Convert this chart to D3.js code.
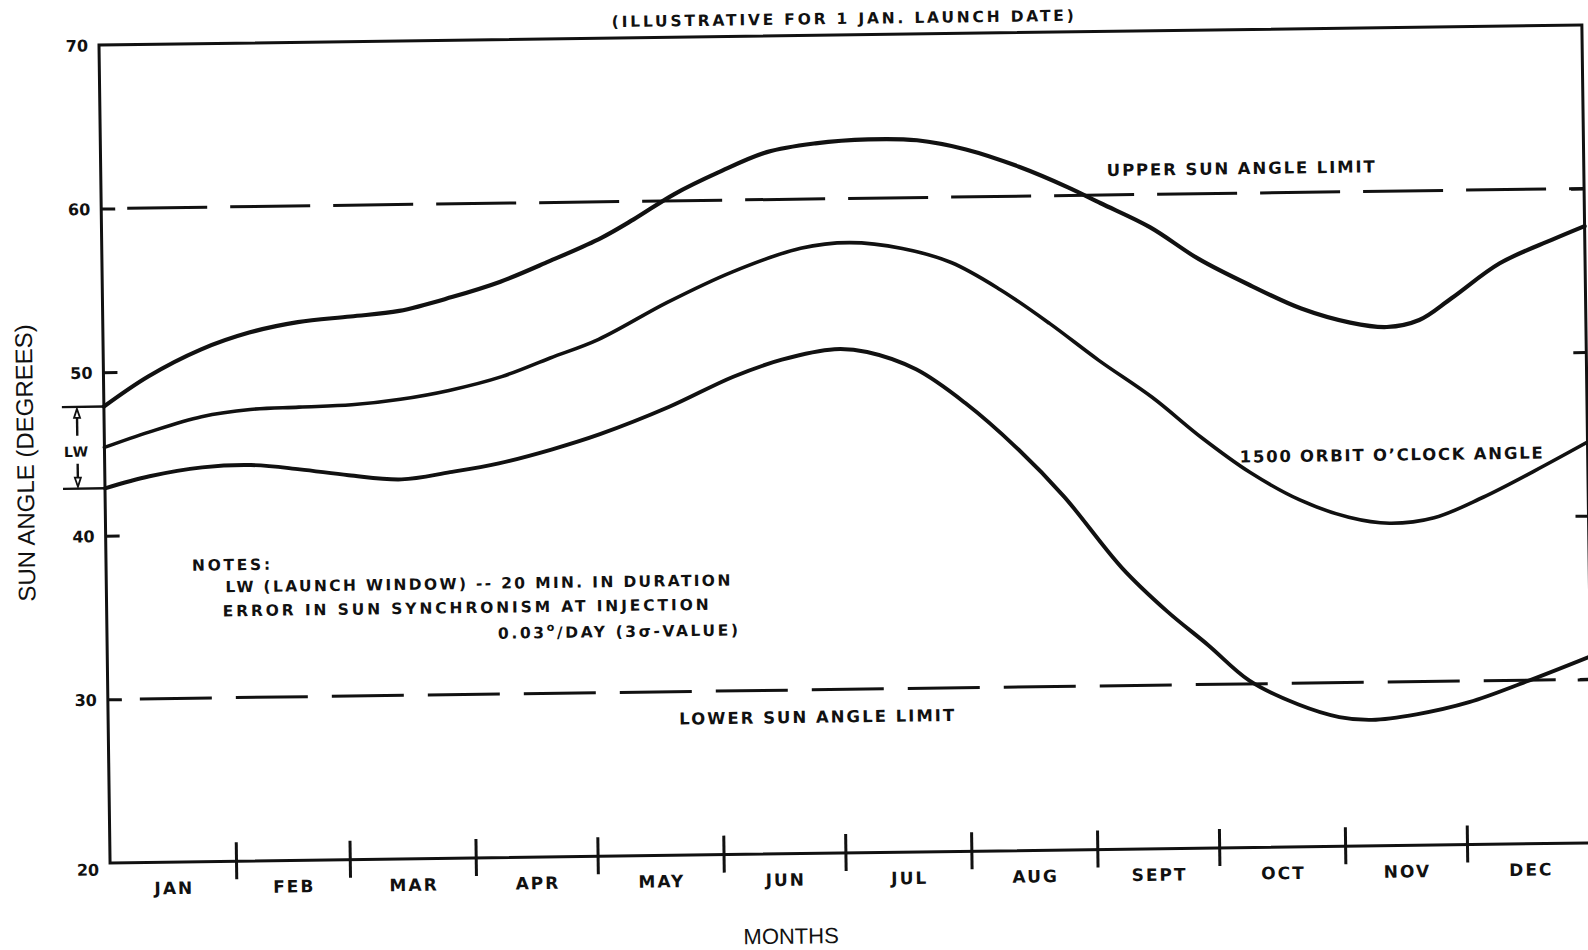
<!DOCTYPE html>
<html>
<head>
<meta charset="utf-8">
<script src="https://cdn.jsdelivr.net/npm/d3@7"></script>
<style>
  html, body { margin: 0; padding: 0; background: #fff; }
  svg { display: block; }
  .lbl { font-family: "DejaVu Sans", sans-serif; font-weight: bold; fill: #111; }
  .ttl { font-family: "Liberation Sans", Arial, sans-serif; fill: #111; }
</style>
</head>
<body>
<svg id="chart" width="1588" height="950"></svg>
<script>
// Month names along the time axis and sun-angle ticks
const monthLabels = ["JAN", "FEB", "MAR", "APR", "MAY", "JUN", "JUL", "AUG", "SEPT", "OCT", "NOV", "DEC"];
const angleTicks = [20, 30, 40, 50, 60, 70];
const sideTicks = [30, 40, 50, 60];
const upperLimit = 60;
const lowerLimit = 30;

// Sun angle (deg) versus days after the 1 Jan launch
const upperDays  = [0, 11, 24, 36, 48, 61, 73, 86, 98, 110, 123, 131, 141, 152, 164, 176, 189, 201, 213, 226, 238, 246, 258, 270, 283, 295, 307, 316, 324, 332, 344, 357, 365];
const upperAngle = [47.9, 49.7, 51.3, 52.3, 52.9, 53.2, 53.5, 54.3, 55.2, 56.4, 57.8, 58.9, 60.4, 61.7, 62.9, 63.4, 63.6, 63.5, 62.9, 61.8, 60.5, 59.5, 58.0, 56.0, 54.3, 52.9, 52.0, 51.7, 52.1, 53.4, 55.5, 56.9, 57.7];

const orbitDays  = [0, 11, 24, 36, 48, 61, 73, 85, 98, 110, 122, 139, 155, 172, 184, 197, 209, 221, 233, 245, 258, 270, 282, 294, 306, 316, 327, 339, 352, 365];
const orbitAngle = [45.4, 46.3, 47.2, 47.6, 47.7, 47.8, 48.1, 48.6, 49.4, 50.5, 51.6, 53.8, 55.6, 57.0, 57.3, 56.9, 56.0, 54.3, 52.2, 49.9, 47.6, 45.1, 42.9, 41.2, 40.1, 39.7, 40.0, 41.2, 42.8, 44.5];

const lowerDays  = [0, 11, 24, 36, 48, 60, 73, 85, 97, 110, 122, 139, 155, 167, 180, 188, 200, 212, 225, 236, 250, 261, 271, 281, 293, 303, 311, 322, 335, 349, 365];
const lowerAngle = [42.9, 43.6, 44.1, 44.2, 43.9, 43.5, 43.2, 43.6, 44.1, 44.9, 45.8, 47.4, 49.2, 50.2, 50.8, 50.6, 49.5, 47.4, 44.5, 41.6, 37.2, 34.5, 32.4, 30.2, 28.7, 27.9, 27.7, 28.0, 28.7, 29.9, 31.4];

const W = 1483, H = 818;
const yearStart = new Date(Date.UTC(1970, 0, 1));
const yearEnd = new Date(Date.UTC(1971, 0, 1));
const dayDate = d => d3.utcDay.offset(yearStart, d);

const x = d3.scaleUtc().domain([yearStart, yearEnd]).range([0, W]);
const y = d3.scaleLinear().domain([20, 70]).range([H, 0]);

const svg = d3.select("#chart");
// the sheet sits slightly tilted on the page
const g = svg.append("g").attr("transform", "translate(99,45) rotate(-0.775)");

// frame
g.append("rect").attr("x", 0).attr("y", 0).attr("width", W).attr("height", H)
  .attr("fill", "none").attr("stroke", "#111").attr("stroke-width", 3);

// left sun-angle axis
const yAxis = g.append("g")
  .call(d3.axisLeft(y).tickValues(angleTicks).tickSize(-14).tickPadding(11).tickFormat(d3.format("d")));
yAxis.select(".domain").remove();
yAxis.selectAll(".tick line").attr("stroke", "#111").attr("stroke-width", 3)
  .attr("display", d => (d === 20 || d === 70) ? "none" : null);
yAxis.selectAll(".tick text").attr("class", "lbl").style("font-size", "16px")
  .attr("dy", d => d === 20 ? "0.75em" : "0.36em");

// right edge ticks
const yRight = g.append("g").attr("transform", `translate(${W},0)`)
  .call(d3.axisRight(y).tickValues(sideTicks).tickSize(-13).tickFormat(""));
yRight.select(".domain").remove();
yRight.selectAll(".tick line").attr("stroke", "#111").attr("stroke-width", 3);

// month boundaries on the time axis
const monthStarts = d3.utcMonth.range(yearStart, yearEnd);
const boundaries = monthStarts.slice(1);
const xAxis = g.append("g").attr("transform", `translate(0,${H})`)
  .call(d3.axisBottom(x).tickValues(boundaries).tickSize(18).tickFormat(""));
xAxis.select(".domain").remove();
xAxis.selectAll(".tick line").attr("y1", -19).attr("y2", 18)
  .attr("stroke", "#111").attr("stroke-width", 3);

g.append("g").selectAll("text").data(monthStarts).join("text")
  .attr("class", "lbl")
  .attr("x", (d, i) => (x(d) + x(i < 11 ? monthStarts[i + 1] : yearEnd)) / 2 + 1)
  .attr("y", H + 32)
  .attr("text-anchor", "middle")
  .style("font-size", "17px").style("letter-spacing", "2px")
  .text((d, i) => monthLabels[i]);

// sun angle limits
const limits = [
  { v: upperLimit, start: 26, dash: "80,23" },
  { v: lowerLimit, start: 32, dash: "72,24" }
];
g.append("g").selectAll("line").data(limits).join("line")
  .attr("x1", d => d.start).attr("x2", W)
  .attr("y1", d => y(d.v)).attr("y2", d => y(d.v))
  .attr("stroke", "#111").attr("stroke-width", 3)
  .attr("stroke-dasharray", d => d.dash);

// curves
const line = d3.line()
  .x(d => x(dayDate(d[0])))
  .y(d => y(d[1]))
  .curve(d3.curveCatmullRom.alpha(0.5));

const series = [
  { days: upperDays, angle: upperAngle, w: 4.2 },
  { days: orbitDays, angle: orbitAngle, w: 3.6 },
  { days: lowerDays, angle: lowerAngle, w: 3.9 }
];
g.append("g").selectAll("path").data(series).join("path")
  .attr("d", s => line(d3.zip(s.days, s.angle)))
  .attr("fill", "none").attr("stroke", "#111")
  .attr("stroke-width", s => s.w)
  .attr("stroke-linejoin", "round").attr("stroke-linecap", "round");

// launch window marker
const lwTop = y(upperAngle[0]);
const lwBot = y(lowerAngle[0]);
const lwMid = (lwTop + lwBot) / 2;
const lw = g.append("g").attr("stroke", "#111").attr("stroke-width", 2.4);
lw.append("line").attr("x1", -42).attr("x2", 0).attr("y1", lwTop).attr("y2", lwTop);
lw.append("line").attr("x1", -42).attr("x2", 0).attr("y1", lwBot).attr("y2", lwBot);
lw.append("line").attr("x1", -27).attr("x2", -27).attr("y1", lwTop + 6).attr("y2", lwMid - 12);
lw.append("line").attr("x1", -27).attr("x2", -27).attr("y1", lwMid + 16).attr("y2", lwBot - 4);
lw.append("path").attr("d", `M-27,${lwTop + 2}L-30,${lwTop + 11}L-24,${lwTop + 11}Z`)
  .attr("fill", "#fff").attr("stroke-width", 1.8);
lw.append("path").attr("d", `M-27,${lwBot - 2}L-30,${lwBot - 11}L-24,${lwBot - 11}Z`)
  .attr("fill", "#fff").attr("stroke-width", 1.8);
g.append("text").attr("class", "lbl").attr("x", -28).attr("y", lwMid + 9)
  .attr("text-anchor", "middle").style("font-size", "14px").style("letter-spacing", "1px").text("LW");

// annotations
const notes = [
  { t: "UPPER SUN ANGLE LIMIT", x: 1006, y: y(upperLimit) - 19, len: 268, fs: 16.5 },
  { t: "LOWER SUN ANGLE LIMIT", x: 571, y: y(lowerLimit) + 33, len: 275, fs: 16.5 },
  { t: "1500 ORBIT O\u2019CLOCK ANGLE", x: 1135, y: 433, len: 303, fs: 16.5 },
  { t: "NOTES:", x: 86, y: 527, len: 78, fs: 15.5 },
  { t: "LW (LAUNCH WINDOW) -- 20 MIN. IN DURATION", x: 119, y: 549, len: 505, fs: 15.5 },
  { t: "ERROR IN SUN SYNCHRONISM AT INJECTION", x: 116, y: 573, len: 486, fs: 15.5 }
];
g.append("g").selectAll("text").data(notes).join("text")
  .attr("class", "lbl")
  .attr("x", d => d.x).attr("y", d => d.y)
  .attr("textLength", d => d.len).attr("lengthAdjust", "spacing")
  .style("font-size", d => d.fs + "px")
  .text(d => d.t);

const rate = g.append("text").attr("class", "lbl")
  .attr("x", 391).attr("y", 599)
  .attr("textLength", 240).attr("lengthAdjust", "spacing")
  .style("font-size", "15.5px");
rate.append("tspan").text("0.03");
rate.append("tspan").attr("dy", -7).style("font-size", "11px").text("o");
rate.append("tspan").attr("dy", 7).text("/DAY (3\u03C3-VALUE)");

// subtitle
g.append("text").attr("class", "lbl")
  .attr("x", 744).attr("y", -11).attr("text-anchor", "middle")
  .attr("textLength", 462).attr("lengthAdjust", "spacing")
  .style("font-size", "15.5px")
  .text("(ILLUSTRATIVE FOR 1 JAN. LAUNCH DATE)");

// axis titles
g.append("text").attr("class", "ttl")
  .attr("transform", `translate(-71,${(y(50) + y(40)) / 2 + 8}) rotate(-90)`)
  .attr("text-anchor", "middle").style("font-size", "24px")
  .text("SUN ANGLE (DEGREES)");
g.append("text").attr("class", "ttl")
  .attr("x", 680).attr("y", H + 90).attr("text-anchor", "middle")
  .style("font-size", "22px")
  .text("MONTHS");
</script>
</body>
</html>
